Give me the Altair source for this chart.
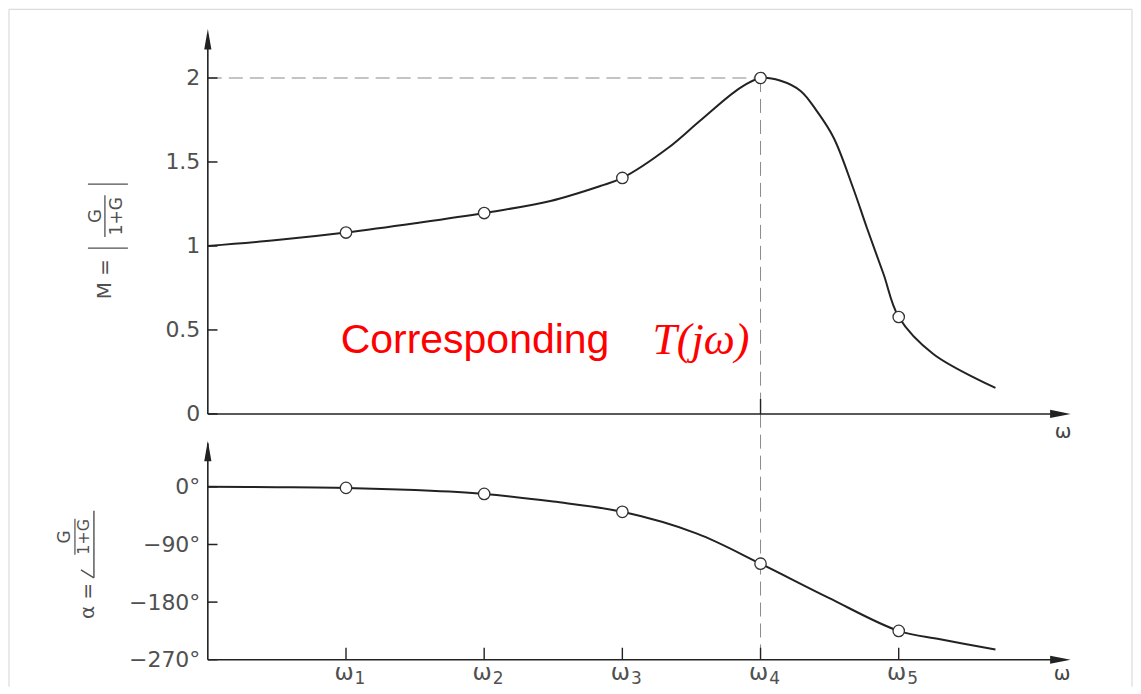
import altair as alt
import pandas as pd

# ---------------- data ----------------
# magnitude curve M(omega)
mag_w = [0.0, 0.5, 1.0, 1.5, 2.0, 2.48, 2.84, 3.0, 3.33, 3.56, 3.85, 4.0, 4.14, 4.29, 4.41, 4.53, 4.67, 4.77, 4.89, 5.0, 5.25, 5.7]
mag_m = [1.0, 1.035, 1.08, 1.135, 1.196, 1.268, 1.357, 1.405, 1.583, 1.744, 1.94, 2.0, 1.985, 1.923, 1.80, 1.643, 1.345, 1.107, 0.833, 0.577, 0.357, 0.155]
# phase curve alpha(omega), degrees
ph_w = [0.0, 0.5, 1.0, 1.5, 2.0, 2.5, 3.0, 3.54, 4.0, 4.49, 5.0, 5.3, 5.7]
ph_a = [0.0, -0.5, -1.6, -5.0, -11.0, -23.0, -39.0, -73.0, -120.0, -173.0, -225.0, -238.0, -254.0]
# marked frequencies
mark_w = [1, 2, 3, 4, 5]
mark_m = [1.08, 1.196, 1.405, 2.0, 0.577]
mark_a = [-1.6, -11.0, -39.0, -120.0, -225.0]
# tick labels
m_ticks = [0, 0.5, 1, 1.5, 2]
m_tick_labels = ["0", "0.5", "1", "1.5", "2"]
a_ticks = [0, -90, -180, -270]
a_tick_labels = ["0°", "−90°", "−180°", "−270°"]
w_ticks = [1, 2, 3, 4, 5]
w_tick_base = ["ω", "ω", "ω", "ω", "ω"]
w_tick_sub = ["1", "2", "3", "4", "5"]
peak_w = 4
peak_m = 2

# ---------------- geometry of the two stacked panels ----------------
PW = 863                 # plot width (px)
TOP_H = 385              # magnitude panel height (px)
BOT_H = 246              # phase panel height (px)
W_DOM = [0, 6.24]
M_TOP = 2.29             # top of magnitude panel
A_TOP, A_BOT = 113.9, -270.0   # phase range of lower panel
PX_M = TOP_H / M_TOP
PX_A = BOT_H / (A_TOP - A_BOT)
K_A = PX_A / PX_M        # converts degrees to magnitude-panel units
Y_DOM = [(A_BOT - A_TOP) * K_A, M_TOP]


def a2y(a):
    return (a - A_TOP) * K_A


A_EXPR = f"(datum.a - {A_TOP}) * {K_A}"

FONT = "DejaVu Sans"
INK = "#222222"
LAB = "#505050"

xs = alt.Scale(domain=W_DOM, nice=False, zero=False)
ys = alt.Scale(domain=Y_DOM, nice=False, zero=False)

y_vals = [float(v) for v in m_ticks] + [round(a2y(a), 5) for a in a_ticks]
y_labs = m_tick_labels + a_tick_labels
y_expr = " : ".join(f"abs(datum.value - ({v})) < 0.0005 ? '{l}'" for v, l in zip(y_vals, y_labs)) + " : ''"

y_axis = alt.Axis(
    values=y_vals, labelExpr=y_expr, domain=False, ticks=False, grid=False, labelPadding=8,
    labelFont=FONT, labelFontSize=22, labelColor=LAB, labelOverlap=False, title=None,
)

X = lambda f: alt.X(f, scale=xs, axis=None)
Y = lambda f: alt.Y(f, scale=ys, axis=y_axis)

mag_df = pd.DataFrame({"w": mag_w, "m": mag_m})
ph_df = pd.DataFrame({"w": ph_w, "a": ph_a})
mk_df = pd.DataFrame({"w": mark_w, "m": mark_m, "a": mark_a})

# curves
curve_top = alt.Chart(mag_df).mark_line(color=INK, strokeWidth=2, interpolate="catmull-rom").encode(
    x=X("w:Q"), y=Y("m:Q")
)
curve_bot = alt.Chart(ph_df).transform_calculate(y=A_EXPR).mark_line(
    color=INK, strokeWidth=2, interpolate="catmull-rom"
).encode(x=X("w:Q"), y=Y("y:Q"))

pt_style = dict(shape="circle", size=130, filled=True, fill="white", stroke="#333333", strokeWidth=1.3, opacity=1)
pts_top = alt.Chart(mk_df).mark_point(**pt_style).encode(x=X("w:Q"), y=Y("m:Q"))
pts_bot = alt.Chart(mk_df).transform_calculate(y=A_EXPR).mark_point(**pt_style).encode(x=X("w:Q"), y=Y("y:Q"))

# dashed guides to the resonance peak
guide_h = alt.Chart(pd.DataFrame({"x": [0], "x2": [peak_w], "y": [peak_m]})).mark_rule(
    color="#8a8a8a", strokeWidth=1.2, strokeDash=[14, 7]
).encode(x=X("x:Q"), x2="x2:Q", y=Y("y:Q"))
guide_v = alt.Chart(pd.DataFrame({"x": [peak_w], "y": [peak_m], "y2": [Y_DOM[0]]})).mark_rule(
    color="#8a8a8a", strokeWidth=1, strokeDash=[14, 7]
).encode(x=X("x:Q"), y=Y("y:Q"), y2="y2:Q")

# axis lines
axes_df = pd.DataFrame({
    "x":  [0, 0, 0, 0],
    "x2": [0, 6.2, 0, 6.2],
    "y":  [0, 0, Y_DOM[0], Y_DOM[0]],
    "y2": [2.25, 0, a2y(68), Y_DOM[0]],
})
axes = alt.Chart(axes_df).mark_rule(color=INK, strokeWidth=1.6).encode(
    x=X("x:Q"), x2="x2:Q", y=Y("y:Q"), y2="y2:Q"
)

arrow_up = "M0,-1L0.35,1L-0.35,1Z"
arrow_right = "M1,0L-1,-0.4L-1,0.4Z"
arr_up = alt.Chart(pd.DataFrame({"x": [0, 0], "y": [2.23, a2y(56)]})).mark_point(
    shape=arrow_up, size=420, filled=True, color=INK, opacity=1
).encode(x=X("x:Q"), y=Y("y:Q"))
arr_right = alt.Chart(pd.DataFrame({"x": [6.17, 6.17], "y": [0, Y_DOM[0]]})).mark_point(
    shape=arrow_right, size=420, filled=True, color=INK, opacity=1
).encode(x=X("x:Q"), y=Y("y:Q"))

# inward ticks
ytick_df = pd.DataFrame({"y": y_vals, "x": [0] * len(y_vals), "x2": [0.07] * len(y_vals)})
yticks = alt.Chart(ytick_df).mark_rule(color=INK, strokeWidth=1.5).encode(x=X("x:Q"), x2="x2:Q", y=Y("y:Q"))
xtick_df = pd.DataFrame({"x": w_ticks + [peak_w], "y": [Y_DOM[0]] * 5 + [0],
                         "y2": [Y_DOM[0] + 12 / PX_M] * 5 + [15 / PX_M]})
xticks = alt.Chart(xtick_df).mark_rule(color=INK, strokeWidth=1.4).encode(x=X("x:Q"), y=Y("y:Q"), y2="y2:Q")

# omega tick labels (omega with subscript) under the phase axis
wlab_df = pd.DataFrame({"w": w_ticks, "b": w_tick_base, "s": w_tick_sub, "y": [Y_DOM[0]] * 5})
wlab_base = alt.Chart(wlab_df).mark_text(
    font=FONT, fontSize=23, color=LAB, align="center", baseline="middle", dx=-2, dy=13
).encode(x=X("w:Q"), y=Y("y:Q"), text="b:N")
wlab_sub = alt.Chart(wlab_df).mark_text(
    font=FONT, fontSize=17, color=LAB, align="center", baseline="middle", dx=14, dy=19
).encode(x=X("w:Q"), y=Y("y:Q"), text="s:N")


# text / decoration helpers (pixel offsets from the plot origin)
def txt(t, x, y, size=19, angle=270, color=LAB, font=FONT, style="normal", align="center"):
    return alt.Chart(pd.DataFrame({"t": [t]})).mark_text(
        angle=angle, font=font, fontSize=size, color=color, align=align, baseline="middle", fontStyle=style
    ).encode(x=alt.value(x), y=alt.value(y), text="t:N")


def seg(x, x2, y, y2, color=LAB, w=1.4):
    return alt.Chart(pd.DataFrame({"k": [0]})).mark_rule(color=color, strokeWidth=w).encode(
        x=alt.value(x), x2=alt.value(x2), y=alt.value(y), y2=alt.value(y2)
    )


frame = [
    seg(-199, 925, -20, -20, color="#d4d4d4", w=1),
    seg(-199, -199, -20, 658, color="#d4d4d4", w=1),
    seg(925, 925, -20, 658, color="#d4d4d4", w=1),
]

ann = [
    txt("Corresponding", 133, 312, size=41, angle=0, color="#ff0000", font="Liberation Sans", align="left"),
    txt("T(jω)", 445, 312, size=44, angle=0, color="#ff0000", font="Liberation Serif", style="italic", align="left"),
]

# rotated axis titles:  M = | G / (1+G) |   and   α = ∠ G / (1+G)
title_top = [
    txt("M =", -103, 250, size=20),
    seg(-120, -80, 219, 219),
    txt("G", -112, 187, size=18),
    seg(-103, -103, 166, 208, w=1.3),
    txt("1+G", -91, 187, size=17),
    seg(-120, -80, 155, 155),
]
title_bot = [
    txt("α =", -120, 572, size=20),
    seg(-114, -114, 482, 549),
    seg(-114, -127, 549, 541),
    txt("1+G", -124, 508, size=16),
    seg(-133, -133, 490, 526, w=1.2),
    txt("G", -143, 508, size=17),
]
w_labs = [
    txt("ω", 856, 403, size=20, angle=0, color="#444444"),
    txt("ω", 855, 645, size=20, angle=0, color="#444444"),
]

chart = alt.layer(
    curve_top, *frame, guide_h, guide_v, axes, yticks, xticks, arr_up, arr_right,
    curve_bot, pts_top, pts_bot, wlab_base, wlab_sub, *ann, *title_top, *title_bot, *w_labs
).properties(
    width=PW, height=TOP_H + BOT_H,
    padding={"left": 0, "top": 0, "right": 0, "bottom": 0}, background="white"
).configure_view(stroke=None)

chart.save("out.html", embed_options={"renderer": "svg", "actions": False})
